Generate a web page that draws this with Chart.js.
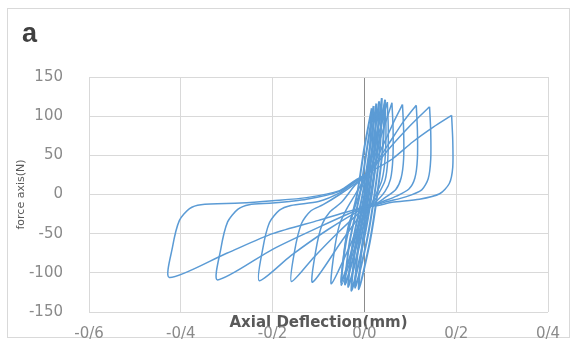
<!DOCTYPE html>
<html>
<head>
<meta charset="utf-8">
<script src="https://cdn.jsdelivr.net/npm/chart.js@4/dist/chart.umd.min.js"></script>
<style>
  html, body { margin: 0; padding: 0; background: #fff; }
</style>
</head>
<body>
<canvas id="chartHysteresis" width="577" height="341"></canvas>
<script>
/* Ciclos de histeresis: [deformacion (mm), fuerza (N)] */
const cycle1 = [[0.19, 101], [0.1925, 69], [0.1925, 35], [0.185, 14], [0.164, 1], [0.12, -6], [0.06, -10], [0.03, -14], [0.0, -16],
  [-0.1, -33], [-0.2, -50], [-0.3, -75], [-0.425, -106], [-0.418, -67], [-0.403, -33], [-0.381, -18], [-0.356, -13], [-0.27, -11],
  [-0.2, -8], [-0.126, -4], [-0.054, 5], [-0.02, 18], [0.01, 28], [0.06, 45], [0.105, 67], [0.15, 86], [0.19, 101]];
const cycle2 = [[0.142, 112], [0.1445, 80], [0.1445, 45], [0.139, 20], [0.125, 6], [0.09, -3], [0.05, -9], [0.02, -14], [0.0, -16],
  [-0.1, -42], [-0.2, -70], [-0.32, -109], [-0.313, -70], [-0.298, -35], [-0.276, -19], [-0.251, -13], [-0.2, -11], [-0.126, -6],
  [-0.054, 4], [-0.02, 17], [0.01, 28], [0.05, 56], [0.1, 88], [0.142, 112]];
const cycle3 = [[0.113, 114], [0.1155, 82], [0.1155, 46], [0.11, 21], [0.097, 7], [0.07, -2], [0.04, -9], [0.02, -14], [0.0, -17],
  [-0.08, -45], [-0.16, -78], [-0.229, -110], [-0.222, -71], [-0.207, -36], [-0.185, -20], [-0.16, -14], [-0.1, -9], [-0.054, 2],
  [-0.02, 16], [0.01, 28], [0.05, 62], [0.085, 93], [0.113, 114]];
const cycle4 = [[0.083, 115], [0.0855, 82], [0.0855, 46], [0.08, 21], [0.068, 6], [0.045, -4], [0.02, -14], [0.0, -18],
  [-0.06, -50], [-0.11, -80], [-0.159, -111], [-0.152, -72], [-0.137, -37], [-0.117, -21], [-0.09, -13], [-0.054, 0],
  [-0.02, 14], [0.01, 28], [0.04, 62], [0.065, 94], [0.083, 115]];
const cycle5 = [[0.06, 117], [0.0625, 84], [0.062, 46], [0.057, 20], [0.045, 4], [0.02, -12], [0.0, -20], [-0.05, -60],
  [-0.113, -112], [-0.106, -72], [-0.092, -38], [-0.075, -22], [-0.05, -10], [-0.02, 12], [0.01, 28], [0.035, 72], [0.06, 117]];
const cycle6 = [[0.05, 118], [0.052, 84], [0.051, 45], [0.045, 18], [0.03, 0], [0.015, -14], [0.0, -24], [-0.035, -70],
  [-0.072, -114], [-0.066, -74], [-0.055, -40], [-0.04, -20], [-0.02, 0], [0.005, 26], [0.03, 75], [0.05, 118]];
const cycle7 = [[0.045, 118], [0.047, 84], [0.045, 45], [0.038, 18], [0.025, 0], [0.012, -16], [-0.002, -30], [-0.025, -75],
  [-0.05, -116], [-0.045, -76], [-0.035, -40], [-0.022, -18], [-0.008, 5], [0.005, 28], [0.025, 75], [0.045, 118]];

/* Ciclos pequenos (banda central) */
const band1 = [[0.045, 121], [0.04, 60], [0.028, 0], [0.012, -60], [-0.012, -121], [-0.004, -60], [0.014, 0], [0.03, 60], [0.045, 121]];
const band2 = [[0.038, 123], [0.034, 60], [0.022, 0], [0.005, -60], [-0.02, -119], [-0.012, -60], [0.008, 0], [0.024, 60], [0.038, 123]];
const band3 = [[0.032, 119], [0.028, 60], [0.016, 0], [-0.002, -60], [-0.028, -123], [-0.018, -60], [0.002, 0], [0.018, 60], [0.032, 119]];
const band4 = [[0.026, 116], [0.022, 60], [0.01, 0], [-0.009, -60], [-0.035, -118], [-0.025, -60], [-0.004, 0], [0.012, 60], [0.026, 116]];
const band5 = [[0.02, 113], [0.017, 60], [0.005, 0], [-0.015, -60], [-0.042, -115], [-0.032, -60], [-0.01, 0], [0.006, 60], [0.02, 113]];
const band6 = [[0.016, 110], [0.012, 60], [0.0, 0], [-0.022, -60], [-0.05, -112], [-0.04, -60], [-0.016, 0], [0.0, 60], [0.016, 110]];

/* Ejes */
const xTicks = [-0.6, -0.4, -0.2, 0, 0.2, 0.4];
const xTickLabels = ['-0/6', '-0/4', '-0/2', '0/0', '0/2', '0/4'];
const yTicks = [-150, -100, -50, 0, 50, 100, 150];

const allCycles = [cycle1, cycle2, cycle3, cycle4, cycle5, cycle6, cycle7, band1, band2, band3, band4, band5, band6];

/* Marco y letra del panel */
const frameLabel = {
  id: 'frameLabel',
  beforeDraw: (chart) => {
    const c = chart.ctx;
    c.save();
    c.fillStyle = '#fff';
    c.fillRect(0, 0, chart.width, chart.height);
    c.strokeStyle = '#d9d9d9';
    c.lineWidth = 1;
    c.strokeRect(7.5, 8.5, 562, 329);
    c.restore();
  },
  afterDraw: (chart) => {
    const c = chart.ctx;
    c.save();
    c.fillStyle = '#404040';
    c.font = 'bold 27px "Liberation Sans"';
    c.textBaseline = 'alphabetic';
    c.fillText('a', 22, 42);
    c.restore();
  },
};

const ctx = document.getElementById('chartHysteresis').getContext('2d');
const chartHysteresis = new Chart(ctx, {
  type: 'scatter',
  data: {
    datasets: allCycles.map((cycle, i) => ({
      data: cycle.map((p) => ({ x: p[0], y: p[1] })),
      showLine: true,
      borderColor: '#5b9bd5',
      borderWidth: i < 7 ? 1.5 : 2,
      pointRadius: 0,
      tension: 0.25,
      fill: false,
    })),
  },
  options: {
    responsive: false,
    animation: false,
    devicePixelRatio: 1,
    layout: {
      padding: { top: 77, right: 29, left: 0, bottom: 0 },
    },
    scales: {
      x: {
        type: 'linear',
        min: -0.6,
        max: 0.4,
        afterBuildTicks: (scale) => {
          scale.ticks = xTicks.map((v) => ({ value: v }));
        },
        afterFit: (scale) => {
          scale.height = 29;
        },
        ticks: {
          callback: (value, index) => xTickLabels[index],
          font: { family: 'DejaVu Sans', size: 15 },
          color: '#8a8a8a',
          padding: 13,
          maxRotation: 0,
        },
        grid: {
          color: (c) => (c.tick && c.tick.value === 0 ? '#8c8c8c' : '#d9d9d9'),
          drawTicks: false,
        },
        border: { display: false },
        title: {
          display: true,
          text: 'Axial Deflection(mm)',
          font: { family: 'DejaVu Sans', size: 15, weight: 'bold' },
          color: '#595959',
          padding: { top: 0, bottom: 9 },
        },
      },
      y: {
        min: -150,
        max: 150,
        afterBuildTicks: (scale) => {
          scale.ticks = yTicks.map((v) => ({ value: v }));
        },
        afterFit: (scale) => {
          scale.width = 89;
          scale.paddingTop = 0;
          scale.paddingBottom = 0;
        },
        ticks: {
          font: { family: 'DejaVu Sans', size: 15 },
          color: '#8a8a8a',
          padding: 26,
        },
        grid: {
          color: '#d9d9d9',
          drawTicks: false,
        },
        border: { display: false },
        title: {
          display: true,
          text: 'force axis(N)',
          font: { family: 'DejaVu Sans', size: 11 },
          color: '#595959',
          padding: { top: 15, bottom: 0 },
        },
      },
    },
    plugins: {
      legend: {
        display: false,
      },
      tooltip: {
        enabled: false,
      },
    },
  },
  plugins: [frameLabel],
});
</script>
</body>
</html>
